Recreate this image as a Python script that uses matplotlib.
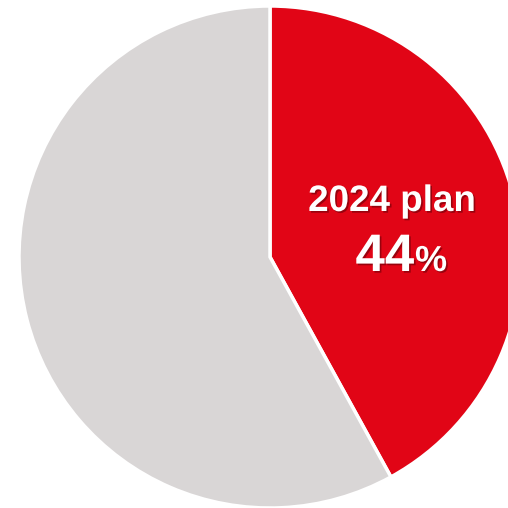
import matplotlib.pyplot as plt
import matplotlib.patheffects as pe

# wedge shares as drawn in the picture (red first, clockwise from top)
labels = ['2024 plan', 'other']
shares = [42, 58]
colors = ['#E10516', '#D9D6D6']
pct_text = '44'

plt.rcParams['font.family'] = ['Liberation Sans', 'DejaVu Sans']

fig = plt.figure(figsize=(5.08, 5.08), dpi=100)
ax = fig.add_axes([0, 0, 1, 1])
ax.pie(shares, colors=colors, startangle=90, counterclock=False,
       radius=1.0, wedgeprops=dict(edgecolor='white', linewidth=2.5))

# crop like the original (pie runs off the right and bottom edges)
R = 251.0
cx, cy = 270.0, 257.0
ax.set_xlim(-cx / R, (508 - cx) / R)
ax.set_ylim(-(508 - cy) / R, cy / R)
ax.set_aspect('equal')
ax.axis('off')

shadow = [pe.SimplePatchShadow(offset=(1.2, -1.2), shadow_rgbFace='#6a0008', alpha=0.6),
          pe.Normal()]

def px(x, y):
    return (x - cx) / R, (cy - y) / R

x, y = px(392, 211)
ax.text(x, y, labels[0], color='white', fontsize=26.5, fontweight='bold',
        ha='center', va='baseline', path_effects=shadow)
x, y = px(414, 271)
ax.text(x, y, pct_text, color='white', fontsize=38, fontweight='bold',
        ha='right', va='baseline', path_effects=shadow)
x, y = px(415, 271)
ax.text(x, y, '%', color='white', fontsize=26, fontweight='bold',
        ha='left', va='baseline', path_effects=shadow)

fig.savefig('out.png', dpi=100)
